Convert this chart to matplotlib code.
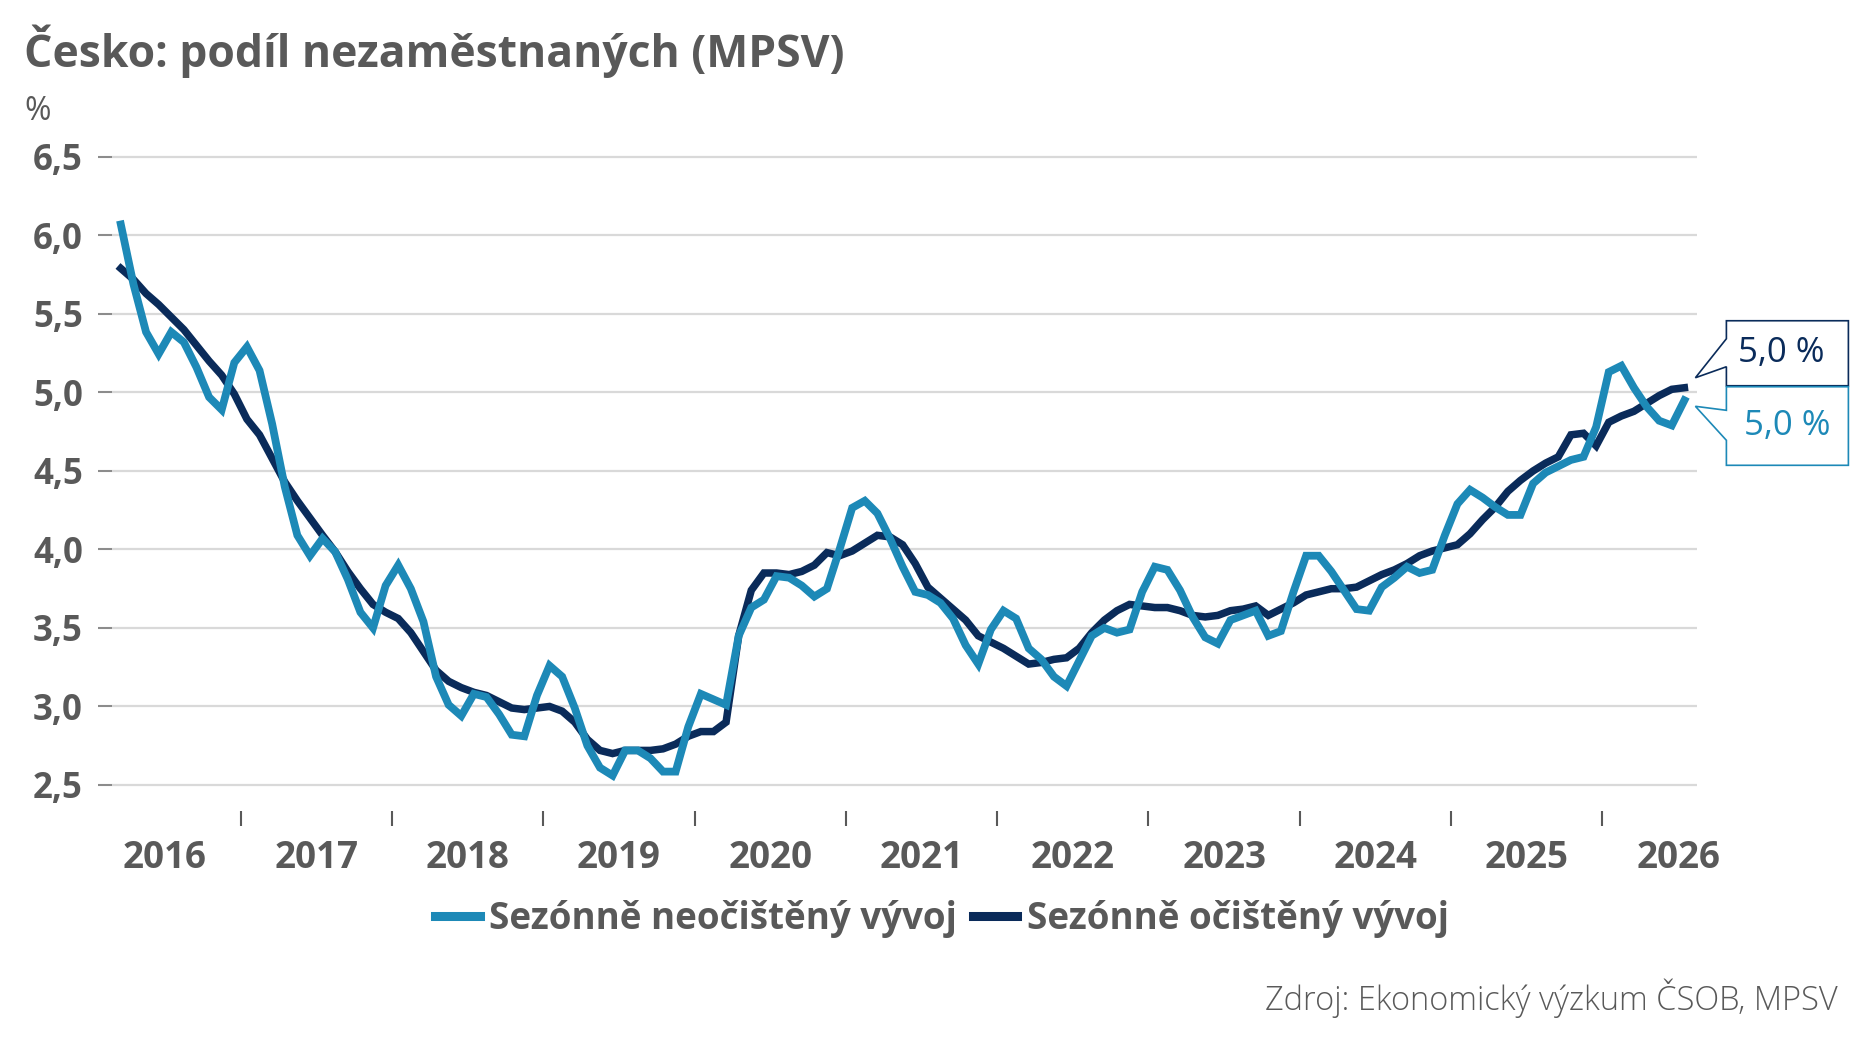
import matplotlib
matplotlib.use('Agg')
import matplotlib.pyplot as plt
import numpy as np
from matplotlib.patches import Polygon
from matplotlib.transforms import IdentityTransform

plt.rcParams['font.family'] = ['Open Sans', 'DejaVu Sans']

# monthly data, Mar 2016 .. Jul 2026
first_year = 2016
first_month = 3
nsa = [6.07, 5.69, 5.385, 5.245, 5.385, 5.32, 5.16, 4.97, 4.89, 5.19,
       5.29, 5.14, 4.80, 4.40, 4.09, 3.96, 4.07, 3.985, 3.81, 3.60,
       3.50, 3.77, 3.90, 3.75, 3.54, 3.19, 3.01, 2.94, 3.08, 3.06,
       2.95, 2.82, 2.81, 3.07, 3.26, 3.19, 2.99, 2.75, 2.61, 2.56,
       2.72, 2.72, 2.67, 2.585, 2.585, 2.87, 3.08, 3.045, 3.01, 3.45,
       3.63, 3.68, 3.83, 3.82, 3.77, 3.70, 3.75, 4.00, 4.265, 4.31,
       4.23, 4.07, 3.89, 3.73, 3.71, 3.66, 3.56, 3.39, 3.27, 3.49,
       3.61, 3.56, 3.37, 3.30, 3.19, 3.13, 3.29, 3.45, 3.50, 3.47,
       3.49, 3.73, 3.89, 3.87, 3.74, 3.57, 3.44, 3.40, 3.55, 3.58,
       3.61, 3.45, 3.48, 3.73, 3.96, 3.96, 3.86, 3.74, 3.62, 3.61,
       3.76, 3.82, 3.89, 3.85, 3.87, 4.09, 4.29, 4.38, 4.33, 4.27,
       4.22, 4.22, 4.42, 4.49, 4.53, 4.57, 4.59, 4.78, 5.13, 5.17,
       5.03, 4.91, 4.82, 4.79, 4.95]
sa = [5.79, 5.72, 5.63, 5.56, 5.48, 5.40, 5.30, 5.20, 5.11, 4.99,
      4.83, 4.73, 4.58, 4.43, 4.31, 4.20, 4.09, 3.985, 3.86, 3.75,
      3.65, 3.60, 3.56, 3.47, 3.35, 3.23, 3.16, 3.12, 3.09, 3.07,
      3.03, 2.99, 2.98, 2.99, 3.00, 2.97, 2.90, 2.79, 2.72, 2.70,
      2.72, 2.72, 2.72, 2.73, 2.76, 2.81, 2.84, 2.84, 2.90, 3.45,
      3.74, 3.85, 3.85, 3.84, 3.86, 3.90, 3.98, 3.96, 3.99, 4.04,
      4.09, 4.08, 4.03, 3.91, 3.76, 3.69, 3.62, 3.55, 3.45, 3.41,
      3.37, 3.32, 3.27, 3.28, 3.30, 3.31, 3.37, 3.47, 3.55, 3.61,
      3.65, 3.64, 3.63, 3.63, 3.61, 3.58, 3.57, 3.58, 3.61, 3.62,
      3.64, 3.58, 3.62, 3.66, 3.71, 3.73, 3.75, 3.75, 3.76, 3.80,
      3.84, 3.87, 3.91, 3.96, 3.99, 4.01, 4.03, 4.10, 4.19, 4.27,
      4.37, 4.44, 4.50, 4.55, 4.59, 4.73, 4.74, 4.66, 4.81, 4.85,
      4.88, 4.93, 4.98, 5.02, 5.03]
years = ['2016', '2017', '2018', '2019', '2020', '2021',
         '2022', '2023', '2024', '2025', '2026']
yticks = [2.5, 3.0, 3.5, 4.0, 4.5, 5.0, 5.5, 6.0, 6.5]
labels = ['Sezónně neočištěný vývoj', 'Sezónně očištěný vývoj']
last_labels = ['5,0 %', '5,0 %']

light = '#1d89b7'
dark = '#0a2b5a'
grey = '#595959'

W, H = 1875, 1053
fig = plt.figure(figsize=(W / 100, H / 100), dpi=100)
ax = fig.add_axes([112 / W, 0.2471, (1697 - 112) / W, 0.8584 - 0.2471])

x = np.arange(len(nsa))
l1, = ax.plot(x, nsa, color=light, lw=5.6, solid_joinstyle='miter', zorder=4)
l2, = ax.plot(x, sa, color=dark, lw=5.4, solid_joinstyle='miter', zorder=3)

ax.set_xlim(-0.7, 125.0)
ax.set_ylim(2.45, 6.55)

# y axis
ax.set_yticks(yticks)
ax.set_yticklabels([('%.1f' % v).replace('.', ',') for v in yticks],
                   fontsize=25, fontweight='bold', color=grey)
ax.tick_params(axis='y', length=10, width=1.5, color='#8c8c8c', pad=11)
ax.yaxis.grid(True, color='#d9d9d9', lw=1.6)
ax.set_axisbelow(True)

# x axis: ticks on year boundaries, labels centred in the year
jan0 = 12 - (first_month - 1)
starts = [jan0 + 12 * (k - 1) for k in range(len(years))]
ax.set_xticks([s - 0.5 for s in starts[1:]])
ax.set_xticklabels([])
ax.set_xticks([s + 5.5 for s in starts], minor=True)
ax.set_xticklabels(years, minor=True)
ax.tick_params(axis='x', which='major', length=11, width=1.5, color=grey,
               direction='out')
ax.tick_params(axis='x', which='minor', length=0, pad=20, labelsize=26.5,
               labelcolor=grey)
ax.spines['bottom'].set_position(('outward', 13))
for s in ax.spines.values():
    s.set_visible(False)

fig.text(24 / W, 1 - 67 / H, 'Česko: podíl nezaměstnaných (MPSV)',
         fontsize=32, fontweight='bold', color=grey, va='baseline')
fig.text(24 / W, 1 - 120 / H, '%', fontsize=23, color=grey, va='baseline')
fig.text(1838 / W, 1 - 1010 / H, 'Zdroj: Ekonomický výzkum ČSOB, MPSV',
         fontsize=23.5, fontweight='light', color=grey, ha='right', va='baseline')

leg = fig.legend([l1, l2], labels, loc='center', bbox_to_anchor=(0.5024, 0.1273),
                 ncol=2, frameon=False, handlelength=1.2, handletextpad=0.25,
                 columnspacing=0.45, prop={'size': 26.5, 'weight': 'bold'})
for t in leg.get_texts():
    t.set_color(grey)
for h in leg.legend_handles:
    h.set_linewidth(6.5)

# callouts at the last points
fig.canvas.draw()
for tk in ax.xaxis.get_minor_ticks():
    tk.label1.set_fontweight('bold')

tx, ty = ax.transData.transform((x[-1], sa[-1]))
tx, ty = tx + 11, ty + 10
left, right = tx + 31, tx + 153
top, bot = ty + 57, ty - 8
pts = [(tx, ty), (left, ty + 11), (left, bot), (right, bot), (right, top),
       (left, top), (left, ty + 39)]
fig.add_artist(Polygon(pts, closed=True, transform=IdentityTransform(),
                       facecolor='white', edgecolor=dark, lw=1.2, zorder=10))
fig.text((left + right) / 2 - 6, (top + bot) / 2, last_labels[1],
         transform=IdentityTransform(), fontsize=25, color=dark,
         ha='center', va='center', zorder=11)

tx2, ty2 = ax.transData.transform((x[-1], nsa[-1]))
tx2, ty2 = tx2 + 11, ty2 - 6
top2, bot2 = bot - 1, ty2 - 59
pts2 = [(tx2, ty2), (left, ty2 - 4), (left, top2), (right, top2), (right, bot2),
        (left, bot2), (left, ty2 - 34)]
fig.add_artist(Polygon(pts2, closed=True, transform=IdentityTransform(),
                       facecolor='white', edgecolor=light, lw=1.2, zorder=10))
fig.text((left + right) / 2, (top2 + bot2) / 2, last_labels[0],
         transform=IdentityTransform(), fontsize=25, color=light,
         ha='center', va='center', zorder=11)

fig.savefig('out.png', dpi=100)
